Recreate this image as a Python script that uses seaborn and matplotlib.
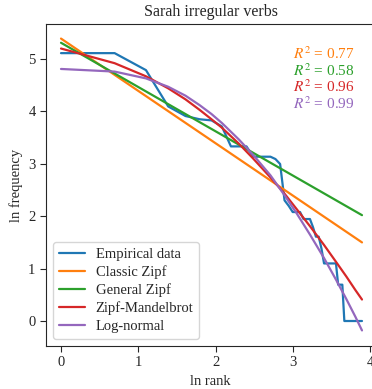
import numpy as np
import pandas as pd
import matplotlib
matplotlib.use("Agg")
import matplotlib.pyplot as plt
import seaborn as sns

# ---- data ----
ranks = list(range(1, 50))
freqs = [166, 166, 120, 60, 50, 47, 46, 41, 28, 28, 28, 23, 23, 23, 23, 22, 20,
         10, 9, 8, 8, 8, 7, 7, 7, 6, 5, 5, 4, 3, 3, 3, 3, 3, 3, 2, 2, 2,
         1, 1, 1, 1, 1, 1, 1, 1, 1, 1, 1]

fit_ranks = [1, 2, 3, 4, 5, 6, 7, 8, 10, 12, 15, 18, 21, 25, 30, 35, 40, 45, 49]
classic_zipf_ranks = [1, 49]
classic_zipf = [5.39, 1.50]
general_zipf_ranks = [1, 49]
general_zipf = [5.31, 2.02]
zipf_mandelbrot = [5.20, 4.92, 4.67, 4.44, 4.23, 4.03, 3.85, 3.69, 3.38, 3.10,
                   2.74, 2.43, 2.14, 1.81, 1.45, 1.13, 0.85, 0.59, 0.41]
log_normal = [4.81, 4.76, 4.63, 4.47, 4.30, 4.12, 3.95, 3.78, 3.46, 3.17,
              2.78, 2.40, 2.06, 1.65, 1.20, 0.79, 0.42, 0.08, -0.18]

labels = ["Empirical data", "Classic Zipf", "General Zipf", "Zipf-Mandelbrot", "Log-normal"]
r2_texts = ["0.77", "0.58", "0.96", "0.99"]

colors = ["#1f77b4", "#ff7f0e", "#2ca02c", "#d62728", "#9467bd"]

# ---- style ----
sns.set_style("ticks")
plt.rcParams["font.family"] = ["Liberation Serif", "DejaVu Serif"]
plt.rcParams["mathtext.fontset"] = "stix"

fig = plt.figure(figsize=(3.72, 3.89), dpi=100)
ax = fig.add_axes([46 / 372, 43 / 389, 329 / 372, 322 / 389])

frames = [
    pd.DataFrame({"x": np.log(ranks), "y": np.log(freqs), "s": labels[0]}),
    pd.DataFrame({"x": np.log(classic_zipf_ranks), "y": classic_zipf, "s": labels[1]}),
    pd.DataFrame({"x": np.log(general_zipf_ranks), "y": general_zipf, "s": labels[2]}),
    pd.DataFrame({"x": np.log(fit_ranks), "y": zipf_mandelbrot, "s": labels[3]}),
    pd.DataFrame({"x": np.log(fit_ranks), "y": log_normal, "s": labels[4]}),
]
df = pd.concat(frames, ignore_index=True)

sns.lineplot(data=df, x="x", y="y", hue="s", hue_order=labels,
             palette=colors, estimator=None, sort=False, linewidth=1.6, ax=ax)

ax.set_xlim(-0.194, 4.06)
ax.set_ylim(-0.477, 5.668)
ax.set_xticks([0, 1, 2, 3, 4])
ax.set_yticks([0, 1, 2, 3, 4, 5])
ax.tick_params(labelsize=10.5, length=4)
ax.set_xlabel("ln rank", fontsize=10.5)
ax.set_ylabel("ln frequency", fontsize=10.5)
ax.set_title("Sarah irregular verbs", fontsize=11.5)

for i, t in enumerate(r2_texts):
    ax.text(3.0, 5.10 - i * 0.315, r"$R^2$ = " + t, color=colors[i + 1],
            fontsize=11, ha="left", va="center")

leg = ax.legend(loc="lower left", fontsize=10.5, frameon=True,
                labelspacing=0.3, handlelength=1.8, handletextpad=0.7)
leg.set_title(None)

fig.savefig("out.png", dpi=100)
